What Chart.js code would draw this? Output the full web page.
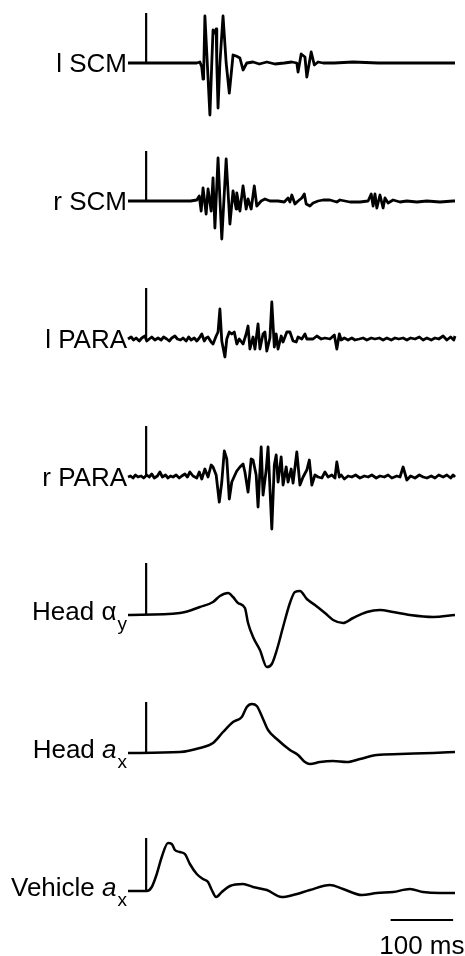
<!DOCTYPE html>
<html>
<head>
<meta charset="utf-8">
<script src="https://cdn.jsdelivr.net/npm/chart.js@4/dist/chart.umd.min.js"></script>
<style>
  html, body { margin: 0; padding: 0; background: #fff; }
  canvas { display: block; }
</style>
</head>
<body>
<canvas id="mycanvas" width="465" height="956"></canvas>
<script>
// trace names, symbol and subscript (left labels)
var names = ['l SCM', 'r SCM', 'l PARA', 'r PARA', 'Head', 'Head', 'Vehicle'];
var symbols = ['', '', '', '', '\u03b1', 'a', 'a'];
var subs = ['', '', '', '', 'y', 'x', 'x'];

// each trace: [time ms, amplitude]
var lSCM = [[0,0],[110,0],[115,1],[118,-4],[120,-16],[121,-10],[123,47],[126,10],[131,-52],[134,0],[136,33],[139,30],[141,34],[142,0],[144,-45],[147,0],[152,47],[157,0],[162,-30],[166,-5],[168,8],[173,7],[179,5],[184,-7],[190,0],[200,1],[210,-1],[222,1],[235,-1],[250,0],[262,1],[270,0],[272,-9],[277,9],[283,6],[286,-14],[293,11],[298,-2],[304,1],[312,0],[330,0],[360,1],[400,0],[450,0],[523,0]];

var rSCM = [[0,0],[100,0],[110,1],[114,5],[117,-10],[120,13],[125,-13],[128,12],[133,-10],[136,23],[139,-27],[144,43],[150,-38],[157,42],[163,-23],[168,10],[173,-8],[174,8],[179,-10],[184,15],[189,-8],[192,2],[197,-8],[202,15],[206,-5],[213,0],[219,2],[227,0],[240,0],[250,-1],[256,3],[259,-1],[262,6],[267,-3],[272,0],[278,3],[282,7],[285,-3],[291,-5],[296,-2],[304,0],[312,1],[323,1],[334,-1],[339,1],[355,-1],[371,-1],[384,0],[389,7],[392,-5],[395,7],[398,-7],[403,6],[408,-7],[411,3],[416,-2],[424,1],[435,-1],[446,0],[462,-1],[478,0],[499,-1],[520,0],[523,0]];

var lPARA = [[0,0],[5,2],[9,-1],[13,1],[18,-2],[22,1],[27,3],[30,-2],[34,0],[38,2],[43,-1],[48,1],[53,-1],[57,2],[62,0],[66,-2],[70,1],[75,3],[79,0],[84,-1],[88,1],[93,-2],[97,2],[101,-1],[106,1],[110,-2],[114,1],[118,5],[122,-2],[125,1],[128,2],[133,-3],[136,-5],[141,3],[144,7],[147,30],[150,-2],[155,-18],[158,0],[162,7],[166,5],[170,7],[174,-5],[178,0],[184,-5],[189,5],[192,13],[195,-10],[200,2],[203,-10],[208,15],[211,-10],[216,5],[219,7],[222,-12],[227,1],[230,37],[234,-8],[237,5],[240,-10],[245,3],[248,-3],[254,7],[259,7],[264,-2],[269,-3],[272,2],[278,0],[283,5],[286,0],[291,0],[296,0],[302,3],[309,0],[315,1],[323,0],[330,4],[334,-10],[338,5],[341,-1],[346,1],[352,-1],[358,1],[363,-1],[370,0],[376,1],[382,-1],[389,1],[395,0],[402,1],[408,-1],[414,1],[421,-1],[427,1],[433,0],[440,1],[446,-1],[452,1],[459,0],[466,2],[472,-1],[478,1],[485,-1],[491,1],[497,0],[504,3],[510,-1],[516,2],[521,-1],[523,3]];

var rPARA = [[0,0],[4,1],[8,-1],[12,2],[16,0],[21,1],[25,-1],[30,2],[34,0],[38,3],[42,-1],[47,1],[51,5],[55,0],[60,2],[64,-1],[68,1],[72,0],[77,2],[82,-1],[86,1],[91,3],[95,0],[99,5],[104,1],[110,-1],[114,5],[118,-2],[123,8],[128,0],[133,12],[136,10],[141,2],[146,-25],[150,-5],[154,26],[158,18],[162,-22],[166,-5],[171,2],[174,6],[179,10],[184,13],[187,5],[192,-15],[197,18],[200,17],[205,2],[208,-30],[213,30],[216,-18],[221,7],[224,30],[230,-52],[234,12],[237,22],[240,-5],[245,20],[248,-8],[253,10],[256,-5],[261,8],[264,-6],[270,25],[275,-8],[280,0],[286,7],[290,17],[294,-8],[299,2],[304,0],[310,-1],[315,5],[320,0],[326,2],[331,-1],[334,15],[338,0],[341,2],[346,-2],[352,1],[358,0],[364,2],[371,-1],[378,1],[384,0],[390,2],[397,-1],[403,1],[410,0],[416,2],[422,-1],[430,1],[435,0],[440,10],[446,-3],[452,1],[459,-1],[466,2],[472,0],[478,-1],[485,1],[491,-1],[497,2],[504,0],[510,2],[516,-1],[520,2],[523,0]];

var headAlphaY = [[0,0],[83,2],[115,8],[136,13],[147,19],[160,22],[168,18],[176,12],[187,7],[192,-8],[200,-22],[211,-35],[222,-52],[230,-49],[238,-35],[248,-12],[259,12],[267,23],[275,24],[286,16],[299,10],[315,2],[328,-5],[344,-8],[360,-3],[382,3],[403,5],[424,3],[451,0],[488,-2],[523,0]];

var headAx = [[0,0],[83,1],[115,5],[136,10],[152,21],[168,31],[182,36],[190,46],[198,49],[206,47],[216,34],[224,23],[238,14],[259,3],[272,-2],[283,-9],[291,-11],[307,-9],[328,-8],[350,-9],[371,-6],[398,-2],[435,-1],[488,0],[523,1]];

var vehicleAx = [[0,0],[30,0],[38,4],[46,17],[54,34],[64,48],[70,47],[75,41],[83,39],[91,37],[99,27],[110,17],[120,12],[128,9],[134,1],[141,-6],[150,-1],[163,5],[184,7],[200,4],[222,1],[246,-6],[264,-4],[291,1],[323,6],[344,2],[374,-4],[398,-2],[424,-1],[451,2],[472,-1],[499,-2],[523,-2]];

var traces = [lSCM, rSCM, lPARA, rPARA, headAlphaY, headAx, vehicleAx];
var smooth = [false, false, false, false, true, true, true];

// vertical calibration bars (time, height)
var barTime = 29;
var barHeights = [50, 50, 51, 51, 52, 51, 53];

// time scale bar
var scaleBarMs = 100;
var scaleBarEnd = 520;
var scaleBarLevel = -29;
var scaleBarText = '100 ms';

var FONT = '"Liberation Sans", Arial, Helvetica, sans-serif';

function toPoints(arr) {
	var pts = [];
	for (var i in arr) {
		pts.push({x: arr[i][0], y: arr[i][1]});
	}
	return pts;
}

var datasets = [];
var scales = {
	x: { type: 'linear', min: 0, max: 523, display: false }
};

for (var i = 0; i < traces.length; i++) {
	var yMin = (i === traces.length - 1) ? -65 : -75;
	var yMax = 63;
	scales['y' + i] = {
		type: 'linear', position: 'right', stack: 'traces',
		stackWeight: yMax - yMin, min: yMin, max: yMax,
		bounds: 'data', display: false
	};
	datasets.push({
		data: toPoints(traces[i]), yAxisID: 'y' + i,
		borderColor: '#000', borderWidth: smooth[i] ? 2.5 : 2.8, pointRadius: 0,
		tension: smooth[i] ? 0.4 : 0,
		cubicInterpolationMode: smooth[i] ? 'monotone' : 'default',
		borderJoinStyle: 'round', fill: false, clip: false
	});
	// calibration bar
	datasets.push({
		data: [{x: barTime, y: 0}, {x: barTime, y: barHeights[i]}], yAxisID: 'y' + i,
		borderColor: '#000', borderWidth: 2.2, pointRadius: 0, fill: false
	});
}

// time scale bar below last trace
datasets.push({
	data: [{x: scaleBarEnd - scaleBarMs, y: scaleBarLevel}, {x: scaleBarEnd, y: scaleBarLevel}],
	yAxisID: 'y' + (traces.length - 1),
	borderColor: '#000', borderWidth: 2.2, pointRadius: 0, fill: false
});

// draws the names to the left of each trace and the scale bar text
var labelPlugin = {
	id: 'traceLabels',
	afterDatasetsDraw: function(chart) {
		var ctx = chart.ctx;
		var rightEdge = 127;
		ctx.save();
		ctx.fillStyle = '#000';
		ctx.textBaseline = 'alphabetic';
		ctx.textAlign = 'left';
		for (var i = 0; i < names.length; i++) {
			var y0 = chart.scales['y' + i].getPixelForValue(0);
			var main = names[i] + (symbols[i] ? ' ' : '');
			ctx.font = '26px ' + FONT;
			var wMain = ctx.measureText(main).width;
			var symFont = (symbols[i] === 'a' ? 'italic ' : '') + '26px ' + FONT;
			ctx.font = symFont;
			var wSym = symbols[i] ? ctx.measureText(symbols[i]).width : 0;
			ctx.font = '19px ' + FONT;
			var wSub = subs[i] ? ctx.measureText(subs[i]).width + 1 : 0;
			var start = rightEdge - wMain - wSym - wSub;
			var base = subs[i] ? y0 + 5 : y0 + 9;
			ctx.font = '26px ' + FONT;
			ctx.fillText(main, start, base);
			if (symbols[i]) {
				ctx.font = symFont;
				ctx.fillText(symbols[i], start + wMain, base);
			}
			if (subs[i]) {
				ctx.font = '19px ' + FONT;
				ctx.fillText(subs[i], start + wMain + wSym + 1, base + 10);
			}
		}
		var xs = chart.scales.x;
		var cx = (xs.getPixelForValue(scaleBarEnd - scaleBarMs) + xs.getPixelForValue(scaleBarEnd)) / 2;
		ctx.font = '26px ' + FONT;
		ctx.textAlign = 'center';
		ctx.fillText(scaleBarText, cx, chart.height - 2);
		ctx.restore();
	}
};

var x = document.getElementById('mycanvas');
var traceChart = new Chart(x, {
	type: 'line',
	data: { datasets: datasets },
	options: {
		responsive: false,
		animation: false,
		devicePixelRatio: 1,
		layout: { padding: { left: 128, right: 10, top: 0, bottom: 0 } },
		plugins: { legend: { display: false }, tooltip: { enabled: false } },
		scales: scales
	},
	plugins: [labelPlugin]
});
</script>
</body>
</html>
